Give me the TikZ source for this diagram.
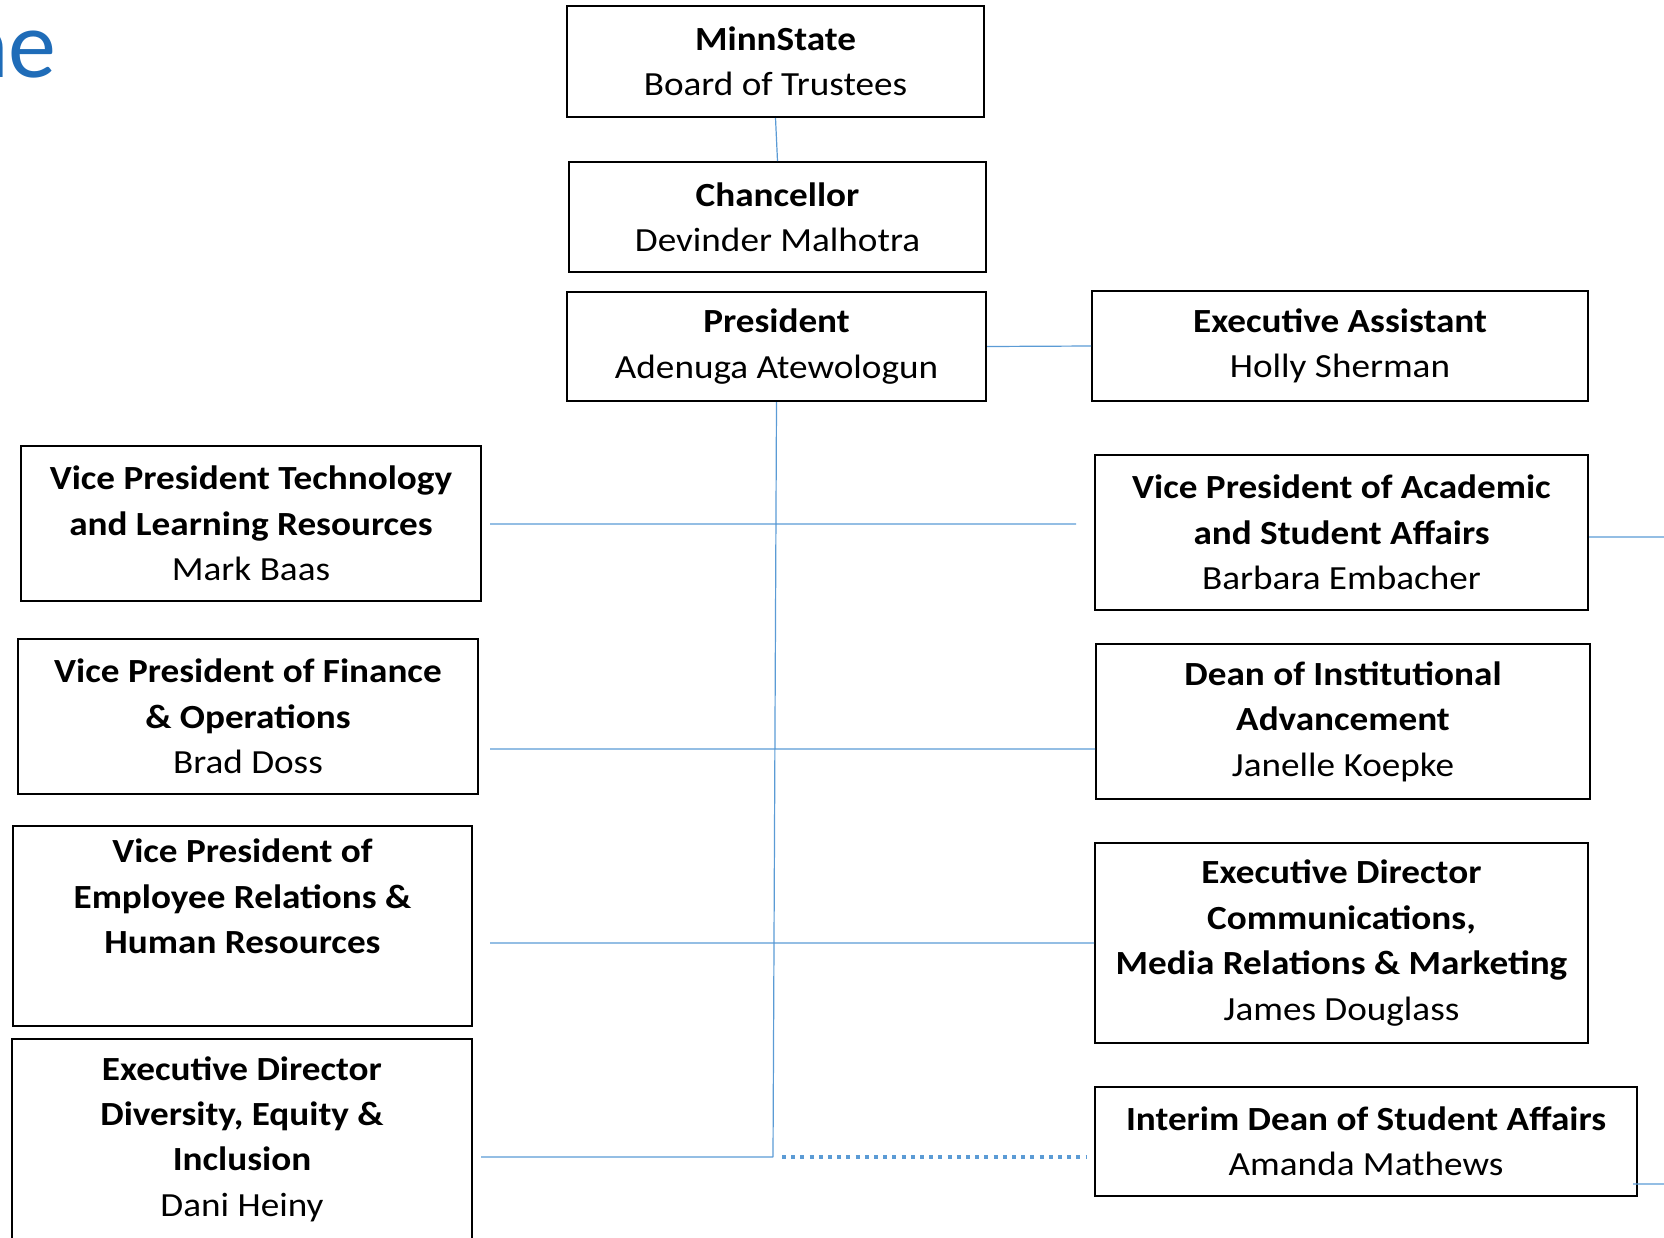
\documentclass[tikz,border=0pt]{standalone}
\usepackage{fontspec}
\setmainfont{Carlito}[FakeStretch=1.1]
\newfontfamily\headfont{Carlito}
\usetikzlibrary{positioning}
\definecolor{linkblue}{HTML}{5B9BD5}
\definecolor{headblue}{HTML}{1F6CB8}

\begin{document}
\begin{tikzpicture}[x=0.5pt, y=-0.5pt,
  unit/.style={draw=black, line width=1pt, align=center, inner sep=0pt,
    font={\fontsize{16.9pt}{22.7pt}\selectfont}},
  boxsize/.style 2 args={minimum width=#1*0.5pt, minimum height=#2*0.5pt},
  link/.style={draw=linkblue, line width=0.6pt},
  dotlink/.style={draw=linkblue, line width=2pt, dash pattern=on 2pt off 2.6pt}]
  \useasboundingbox (0,0) rectangle (1664,1237);

  % page heading, cut at the left edge
  \node[anchor=base east, inner sep=0pt, text=headblue,
    font={\headfont\fontsize{48pt}{48pt}\selectfont}] (head) at (57,77) {ne};

  % centre column
  \node[unit, boxsize={417}{111}] (board) at (775.5,61.5)
    {\textbf{MinnState}\\Board of Trustees};
  \node[unit, boxsize={417}{110}] (chanc) at (777.5,217)
    {\textbf{Chancellor}\\Devinder Malhotra};
  \node[unit, boxsize={419}{109}] (pres) at (776.5,346.5)
    {\textbf{President}\\Adenuga Atewologun};
  \node[unit, boxsize={496}{110}] (assist) at (1340,346)
    {\textbf{Executive Assistant}\\Holly Sherman};

  % left column
  \node[unit, boxsize={460}{155}] (vptech) at (251,523.5)
    {\textbf{Vice President Technology}\\\textbf{and Learning Resources}\\Mark Baas};
  \node[unit, boxsize={460}{155}] (vpfin) at (248,716.5)
    {\textbf{Vice President of Finance}\\\textbf{\& Operations}\\Brad Doss};
  \node[unit, boxsize={459}{200}] (vpemp) at (242.5,926)
    {\textbf{Vice President of}\\\textbf{Employee Relations \&}\\\textbf{Human Resources}\\\strut};
  \node[unit, boxsize={460}{200}] (eddei) at (242,1139)
    {\textbf{Executive Director}\\\textbf{Diversity, Equity \&}\\\textbf{Inclusion}\\Dani Heiny};

  % right column
  \node[unit, boxsize={493}{155}] (vpacad) at (1341.5,532.5)
    {\textbf{Vice President of Academic}\\\textbf{and Student Affairs}\\Barbara Embacher};
  \node[unit, boxsize={494}{155}] (deanadv) at (1343,721.5)
    {\textbf{Dean of Institutional}\\\textbf{Advancement}\\Janelle Koepke};
  \node[unit, boxsize={493}{200}] (edcomm) at (1341.5,943)
    {\textbf{Executive Director}\\\textbf{Communications,}\\\textbf{Media Relations \& Marketing}\\James Douglass};
  \node[unit, boxsize={542}{109}] (intdean) at (1366,1141.5)
    {\textbf{Interim Dean of Student Affairs}\\Amanda Mathews};

  % free ends of the connectors
  \coordinate (trunkend) at (773,1157);
  \coordinate (techl) at (490,524);
  \coordinate (techr) at (1076,524);
  \coordinate (finl) at (490,749);
  \coordinate (empl) at (490,943);
  \coordinate (deil) at (481,1157);
  \coordinate (dotl) at (782,1157);
  \coordinate (dotr) at (1087,1157);
  \coordinate (acadout) at (1664,537);
  \coordinate (deanout) at (1664,1184);

  \path[link]
    (board.south) -- (chanc.north)
    (pres.east) -- (assist.west)
    (pres.south) -- (trunkend)
    (techl) -- (techr)
    (finl) -- (deanadv.west |- finl)
    (empl) -- (edcomm.west)
    (deil) -- (trunkend)
    (vpacad.east |- acadout) -- (acadout)
    (1633,1184) -- (deanout);
  \path[dotlink] (dotl) -- (dotr);
\end{tikzpicture}
\end{document}
